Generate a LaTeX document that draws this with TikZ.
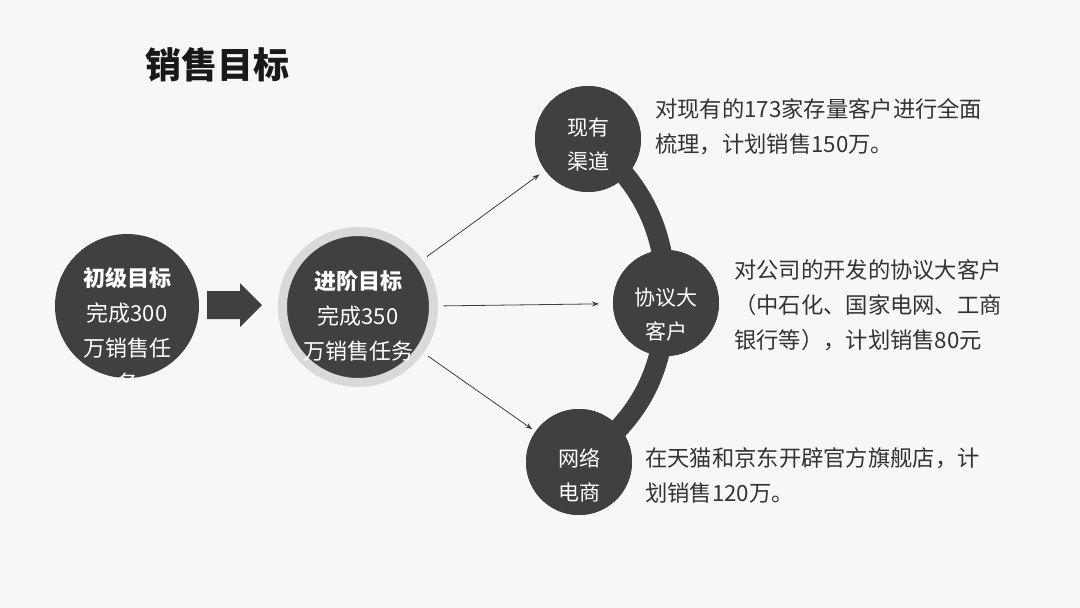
\documentclass[tikz,border=0pt]{standalone}
\usepackage{fontspec}
\setmainfont{Noto Sans CJK SC}
\usepackage{tikz}
\usetikzlibrary{arrows.meta,positioning}

\definecolor{discgray}{HTML}{404040}
\definecolor{ringgray}{HTML}{D9D9D9}
\definecolor{textgray}{HTML}{333333}
\definecolor{pagegray}{HTML}{F7F7F7}

\begin{document}
\begin{tikzpicture}[x=1pt,y=-1pt,
    disc/.style={circle,fill=discgray,minimum size=106pt,inner sep=0pt,outer sep=0pt},
    disctext/.style={text=white,align=center,inner sep=0pt,font=\fontsize{21}{34}\selectfont},
    note/.style={text=textgray,align=left,inner sep=0pt,anchor=west,font=\fontsize{22.3}{35}\selectfont},
    band/.style={discgray,line width=20pt},
    link/.style={discgray,line width=0.8pt,-{Stealth[length=7pt,width=5pt]},shorten <=10pt,shorten >=7pt}]
    \fill[pagegray] (0,0) rectangle (1080,608);
    \useasboundingbox (0,0) rectangle (1080,608);

    % Title
    \node[font=\fontsize{36}{40}\selectfont\bfseries,text=black!90] (title) at (217,65) {销售目标};

    % Right-hand circles and the band that joins them
    \node[disc] (chan) at (588,139) {};
    \node[disc] (agree) at (666,303) {};
    \node[disc] (online) at (579,462) {};
    \draw[band] (chan.center) to[bend left=26] (agree.center) to[bend left=27] (online.center);
    \node[disc] at (chan) {};
    \node[disc] at (agree) {};
    \node[disc] at (online) {};
    \node[disctext] (chantext) at (588,145) {现有\\渠道};
    \node[disctext] (agreetext) at (666,315) {协议大\\客户};
    \node[disctext] (onlinetext) at (579,475) {网络\\电商};

    % Basic goal
    \node[disc,minimum size=144pt] (basic) at (127,306) {};
    \begin{scope}
        \clip (127,306) circle (72);
        \node[disctext,font=\fontsize{22}{35}\selectfont] (basictext) at (127,330)
            {\textbf{初级目标}\\完成300\\万销售任\\务};
    \end{scope}

    % Block arrow
    \fill[discgray] (207,291) -- (240,291) -- (240,283) -- (262,305)
        -- (240,327) -- (240,319) -- (207,319) -- cycle;

    % Advanced goal
    \node[disc,minimum size=151pt,draw=ringgray,line width=9pt] (adv) at (358,307) {};
    \node[disctext,font=\fontsize{22}{35}\selectfont] (advtext) at (358,316)
        {\textbf{进阶目标}\\完成350\\万销售任务};

    % Arrows to the channels
    \draw[link] (adv) -- (chan);
    \draw[link,shorten >=14pt] (adv) -- (agree);
    \draw[link,shorten >=4pt] (adv) -- (online);

    % Notes
    \node[note] (channote) at (655,127) {对现有的173家存量客户进行全面\\梳理，计划销售150万。};
    \node[note] (agreenote) at (734,305) {对公司的开发的协议大客户\\（中石化、国家电网、工商\\银行等），计划销售80元};
    \node[note] (onlinenote) at (645,475) {在天猫和京东开辟官方旗舰店，计\\划销售120万。};
\end{tikzpicture}
\end{document}
